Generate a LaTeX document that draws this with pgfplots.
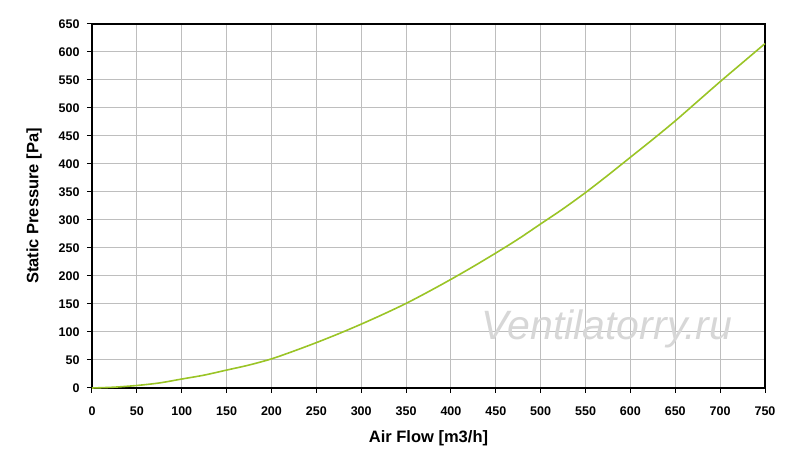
\documentclass[border=0pt]{standalone}
\usepackage{pgfplots}
\pgfplotsset{compat=1.18}
\usepackage{fontspec}
\setmainfont{Liberation Sans}
\definecolor{curve}{RGB}{154,196,38}
\definecolor{gridc}{RGB}{190,190,190}
\definecolor{wm}{RGB}{215,215,215}
\begin{document}
\begin{tikzpicture}[x=1pt,y=1pt]
\path (-92,-69) rectangle (708,388);
\begin{axis}[
  at={(0,0)}, anchor=south west,
  scale only axis, width=673pt, height=364pt,
  xmin=0, xmax=750, ymin=0, ymax=650,
  xtick={0,50,...,750}, ytick={0,50,...,650},
  grid=major,
  major grid style={gridc, line width=1pt},
  axis line style={black, line width=1.3pt},
  tick align=outside, major tick length=5pt,
  tick style={black, line width=1pt},
  xtick pos=bottom, ytick pos=left,
  /pgf/number format/assume math mode=true,
  /pgf/number format/1000 sep={},
  tick label style={font=\fontsize{12.5}{14}\selectfont\bfseries},
  xticklabel style={yshift=-10pt},
  yticklabel style={xshift=-4pt},
  xlabel={Air Flow [m3/h]},
  ylabel={Static Pressure [Pa]},
  label style={font=\fontsize{16.5}{18}\selectfont\bfseries},
  xlabel style={yshift=-8pt},
  ylabel style={yshift=10pt},
  clip=false,
]
\node[wm, font=\fontsize{41}{44}\selectfont\itshape] at (axis cs:574,106) {Ventilatorry.ru};
\addplot[curve, line width=1.6pt, smooth] coordinates {
(0,0) (25,1.5) (50,4.5) (75,9) (100,16) (125,23) (150,32) (175,41)
(200,52) (225,66) (250,81) (275,97) (300,114) (325,132) (350,151)
(375,172) (400,194) (425,217) (450,241) (475,266) (500,293) (525,320)
(550,349) (575,380) (600,412) (625,444) (650,477) (675,512) (700,547)
(725,581) (750,615)
};
\end{axis}
\end{tikzpicture}
\end{document}
